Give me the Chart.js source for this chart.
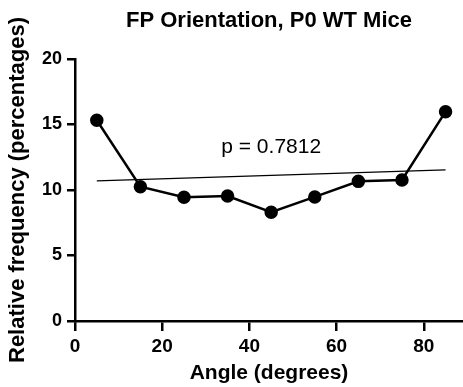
<!DOCTYPE html>
<html>
<head>
<meta charset="utf-8">
<script src="https://cdn.jsdelivr.net/npm/chart.js@4.4.0/dist/chart.umd.min.js"></script>
<style>
html,body{margin:0;padding:0;background:#fff;}
#wrap{width:463px;height:387px;position:relative;}
</style>
</head>
<body>
<div id="wrap"><canvas id="c" width="463" height="387"></canvas></div>
<script>
const chartTitle = "FP Orientation, P0 WT Mice";
const xTitle = "Angle (degrees)";
const yTitle = "Relative frequency (percentages)";
const angles = [5, 15, 25, 35, 45, 55, 65, 75, 85];
const frequency = [15.32, 10.25, 9.44, 9.54, 8.30, 9.47, 10.66, 10.76, 15.98];
const trendX = [5, 85];
const trendY = [10.69, 11.53];
const xTicks = [0, 20, 40, 60, 80];
const yTicks = [0, 5, 10, 15, 20];
const pLabel = "p = 0.7812";
const pLabelAt = [45, 13.3];

const FONT = "'Liberation Sans', Arial, sans-serif";

const textPlugin = {
  id: 'texts',
  afterDraw(chart) {
    const ctx = chart.ctx;
    const xs = chart.scales.x, ys = chart.scales.y;
    const ca = chart.chartArea;
    ctx.save();
    ctx.fillStyle = '#000';
    ctx.textAlign = 'center';
    ctx.textBaseline = 'middle';
    ctx.font = "21px " + FONT;
    ctx.fillText(pLabel, xs.getPixelForValue(pLabelAt[0]), ys.getPixelForValue(pLabelAt[1]));
    ctx.font = "bold 22px " + FONT;
    ctx.fillText(chartTitle, (ca.left + ca.right) / 2, 21);
    ctx.restore();
  }
};

new Chart(document.getElementById('c'), {
  type: 'scatter',
  data: {
    datasets: [
      {
        data: angles.map((a, i) => ({x: a, y: frequency[i]})),
        showLine: true,
        borderColor: '#000',
        backgroundColor: '#000',
        borderWidth: 2.5,
        pointRadius: 5.5,
        pointHoverRadius: 5.5,
        order: 1
      },
      {
        data: trendX.map((a, i) => ({x: a, y: trendY[i]})),
        showLine: true,
        borderColor: '#000',
        borderWidth: 1.2,
        pointRadius: 0,
        order: 2
      }
    ]
  },
  options: {
    responsive: false,
    animation: false,
    clip: false,
    layout: {autoPadding: false, padding: {top: 59, left: 0, right: 0, bottom: 0}},
    plugins: {
      legend: {display: false},
      tooltip: {enabled: false},
      title: {display: false}
    },
    scales: {
      x: {
        type: 'linear',
        min: 0,
        max: 89,
        afterFit(s) { s.height = 66; s.paddingLeft = 0; s.paddingRight = 0; },
        afterBuildTicks(s) { s.ticks = xTicks.map(v => ({value: v})); },
        grid: {display: true, drawOnChartArea: false, drawTicks: true, tickLength: 10, color: '#000', lineWidth: 2.5},
        border: {display: true, color: '#000', width: 2.5},
        ticks: {color: '#000', padding: 4, maxRotation: 0, font: {family: FONT, size: 19, weight: 'bold'}},
        title: {display: true, text: xTitle, color: '#000', font: {family: FONT, size: 21, weight: 'bold'}, padding: {top: 0, bottom: 1}}
      },
      y: {
        type: 'linear',
        min: 0,
        max: 20,
        afterFit(s) { s.width = 75; s.paddingTop = 0; s.paddingBottom = 0; },
        afterBuildTicks(s) { s.ticks = yTicks.map(v => ({value: v})); },
        grid: {display: true, drawOnChartArea: false, drawTicks: true, tickLength: 8, color: '#000', lineWidth: 2.5},
        border: {display: true, color: '#000', width: 2.5},
        ticks: {color: '#000', padding: 5, font: {family: FONT, size: 18, weight: 'bold'}},
        title: {display: true, text: yTitle, color: '#000', font: {family: FONT, size: 22, weight: 'bold'}, padding: {top: 5, bottom: 0}}
      }
    }
  },
  plugins: [textPlugin]
});
</script>
</body>
</html>
